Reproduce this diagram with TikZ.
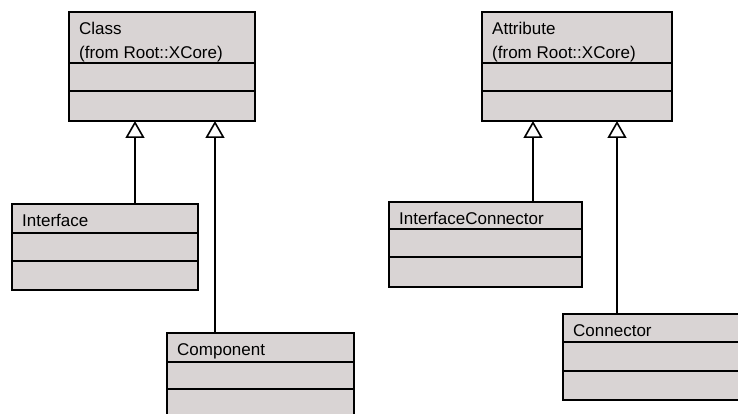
\documentclass[tikz,border=0pt]{standalone}
\usepackage{fontspec}
\setmainfont{Liberation Sans}
\usetikzlibrary{arrows.meta}
\definecolor{clsfill}{RGB}{217,212,212}
\tikzset{
  clsbox/.style={draw=black,fill=clsfill,line width=1.6pt,inner sep=0pt,outer sep=0pt},
  clslabel/.style={anchor=base west,inner sep=0pt,font=\fontsize{17}{24}\selectfont},
  gen/.style={line width=1.6pt,-{Triangle[open,length=17pt,width=19pt]}}
}
\newcommand{\classbox}[8]{%
  \node[clsbox,minimum width=#4pt,minimum height=#5pt] (#1) at ({#2+#4/2},{#3+#5/2}) {};
  \node[clsbox,minimum width=#4pt,minimum height=#6pt,anchor=north] (#1-a) at (#1.south) {};
  \node[clsbox,minimum width=#4pt,minimum height=#7pt,anchor=north] (#1-o) at (#1-a.south) {};
  \node[clslabel] (#1-t) at ({#2+10},{#3+22.5}) {#8};
}

\begin{document}
\begin{tikzpicture}[x=1pt,y=-1pt]
  \useasboundingbox (0,0) rectangle (738,414);
  \clip (0,0) rectangle (738,414);
  % left hierarchy
  \classbox{cls}{69}{12}{186}{51}{28}{30}{Class}
  \node[clslabel] (cls-from) at ([yshift=-24pt]cls-t.base west) {(from Root::XCore)};
  \classbox{iface}{12}{204}{186}{29}{28}{29}{Interface}
  \classbox{comp}{167}{333}{187}{29}{27}{29}{Component}
  % right hierarchy
  \classbox{attr}{482}{12}{190}{51}{28}{30}{Attribute}
  \node[clslabel] (attr-from) at ([yshift=-24pt]attr-t.base west) {(from Root::XCore)};
  \classbox{ific}{389}{202}{193}{27}{28}{30}{InterfaceConnector}
  \classbox{conn}{563}{314}{190}{28}{29}{29}{Connector}
  % generalizations
  \coordinate (g1) at (135,0);
  \coordinate (g2) at (215,0);
  \coordinate (g3) at (533,0);
  \coordinate (g4) at (617,0);
  \draw[gen] (g1 |- iface.north) -- (g1 |- cls-o.south);
  \draw[gen] (g2 |- comp.north) -- (g2 |- cls-o.south);
  \draw[gen] (g3 |- ific.north) -- (g3 |- attr-o.south);
  \draw[gen] (g4 |- conn.north) -- (g4 |- attr-o.south);
\end{tikzpicture}
\end{document}
